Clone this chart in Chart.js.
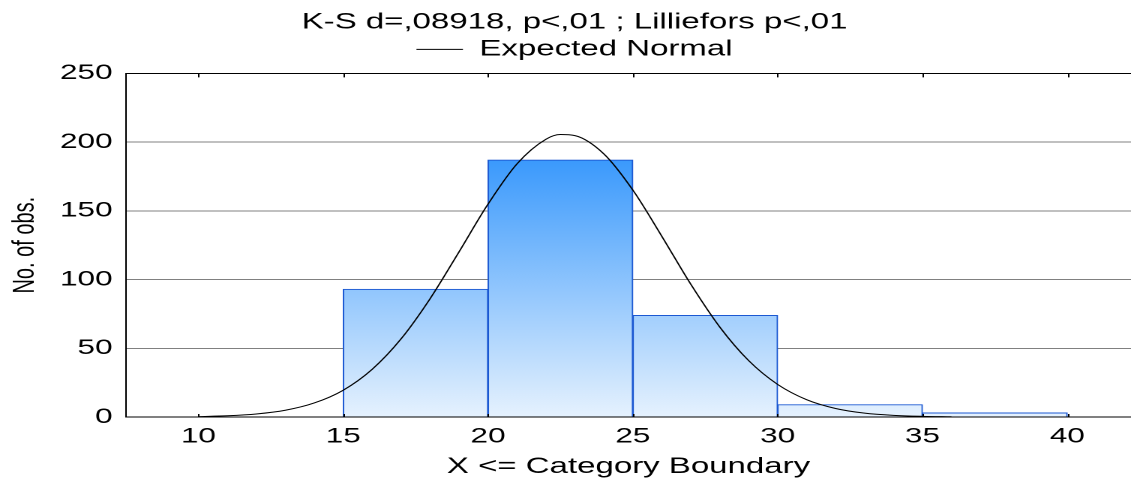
<!DOCTYPE html>
<html>
<head>
<meta charset="utf-8">
<script src="https://cdn.jsdelivr.net/npm/chart.js@4"></script>
<style>
  body { margin: 0; background: #fff; }
  #wrap { width: 1131px; height: 482px; overflow: hidden; }
  /* the reference is stretched sideways, so draw narrow and widen it */
  #c { display: block; transform: scaleX(1.5); transform-origin: 0 0; }
</style>
</head>
<body>
<div id="wrap"><canvas id="c" width="754" height="482"></canvas></div>
<script>
// histogram bins
var binStarts = [15, 20, 25, 30, 35];
var binEnds = [20, 25, 30, 35, 40];
var counts = [93, 187, 74, 9, 3];

// expected normal curve
var curveX = [10, 11, 12, 13, 14, 15, 16, 17, 18, 19, 20, 21, 22, 22.5, 23, 24, 25, 26, 27, 28, 29, 30, 31, 32, 33, 34, 35, 36];
var curveY = [0.3, 0.9, 2.2, 4.9, 10.2, 19.5, 34.7, 56.9, 86.1, 120.2, 154.9, 184.2, 202.1, 205.5, 204.7, 191.4, 165.1, 131.5, 96.6, 65.5, 41.0, 23.7, 12.6, 6.2, 2.8, 1.2, 0.5, 0.2];

var xTicks = [10, 15, 20, 25, 30, 35, 40];
var yTicks = [0, 50, 100, 150, 200, 250];

var titleText = 'K-S d=,08918, p<,01 ; Lilliefors p<,01';
var lineLabel = 'Expected Normal';
var xTitle = 'X <= Category Boundary';
var yTitle = 'No. of obs.';

var fam = '"Liberation Sans", Arial, sans-serif';

var barData = binStarts.map(function (s, i) {
    return { x: (s + binEnds[i]) / 2, y: counts[i] };
});
var lineData = curveX.map(function (x, i) {
    return { x: x, y: curveY[i] };
});

function barFill(ctx) {
    var chart = ctx.chart;
    if (!chart.chartArea) return '#9cc9f8';
    var y = chart.scales.y;
    var g = chart.ctx.createLinearGradient(0, y.getPixelForValue(0), 0, y.getPixelForValue(190));
    g.addColorStop(0, '#e6f2fe');
    g.addColorStop(1, '#3898fc');
    return g;
}

// small inward tick marks on top and bottom edges
var edgeTicks = {
    id: 'edgeTicks',
    afterDatasetsDraw: function (chart) {
        var c = chart.ctx, a = chart.chartArea, xs = chart.scales.x;
        c.save();
        c.strokeStyle = '#000';
        c.lineWidth = 1;
        c.beginPath();
        xTicks.forEach(function (v) {
            var px = Math.round(xs.getPixelForValue(v)) + 0.5;
            c.moveTo(px, a.top);
            c.lineTo(px, a.top + 4);
            c.moveTo(px, a.bottom);
            c.lineTo(px, a.bottom - 3);
        });
        c.stroke();
        c.restore();
    }
};

var ctx = document.getElementById('c').getContext('2d');
var chart = new Chart(ctx, {
    data: {
        datasets: [{
            type: 'line',
            label: lineLabel,
            data: lineData,
            borderColor: '#000',
            backgroundColor: '#000',
            borderWidth: 1,
            pointRadius: 0,
            cubicInterpolationMode: 'monotone',
            order: 0
        }, {
            type: 'bar',
            label: 'counts',
            data: barData,
            backgroundColor: barFill,
            borderColor: '#1b58d2',
            borderWidth: 1,
            barPercentage: 1,
            categoryPercentage: 1,
            order: 1
        }]
    },
    options: {
        responsive: false,
        devicePixelRatio: 2,
        animation: false,
        layout: { padding: { left: 0, right: -12, top: 0, bottom: 0 } },
        plugins: {
            title: {
                display: true,
                text: titleText,
                color: '#000',
                font: { family: fam, size: 22, weight: 'normal' },
                padding: { top: 9, bottom: 0 }
            },
            legend: {
                display: true,
                labels: {
                    color: '#000',
                    font: { family: fam, size: 22 },
                    boxWidth: 31,
                    boxHeight: 1,
                    padding: 3,
                    filter: function (item) { return item.datasetIndex === 0; },
                    generateLabels: function (chart) {
                        return Chart.defaults.plugins.legend.labels.generateLabels(chart).map(function (it) {
                            it.lineWidth = 0;
                            return it;
                        });
                    }
                }
            },
            tooltip: { enabled: false }
        },
        scales: {
            x: {
                type: 'linear',
                position: 'bottom',
                offset: false,
                min: 7.5,
                max: 42.2,
                afterBuildTicks: function (s) {
                    s.ticks = xTicks.map(function (v) { return { value: v }; });
                },
                afterFit: function (s) { s.height = 65; },
                grid: { display: false, drawTicks: false, offset: false },
                border: { display: true, color: '#000', width: 1 },
                ticks: {
                    color: '#000',
                    padding: 7,
                    font: { family: fam, size: 21 },
                    maxRotation: 0
                },
                title: {
                    display: true,
                    text: xTitle,
                    color: '#000',
                    font: { family: fam, size: 22 },
                    padding: { top: 0, bottom: 2 }
                }
            },
            x2: {
                type: 'linear',
                position: 'top',
                offset: false,
                min: 7.5,
                max: 42.2,
                afterFit: function (s) { s.height = 3; },
                grid: { display: false, drawTicks: false },
                border: { display: true, color: '#000', width: 1 },
                ticks: { display: false }
            },
            y: {
                min: 0,
                max: 250,
                afterBuildTicks: function (s) {
                    s.ticks = yTicks.map(function (v) { return { value: v }; });
                },
                afterFit: function (s) { s.width = 84; },
                grid: {
                    drawTicks: false,
                    color: function (c) {
                        return (c.tick && (c.tick.value === 0 || c.tick.value === 250)) ? '#000' : '#808080';
                    },
                    lineWidth: 1
                },
                border: { display: true, color: '#000', width: 1 },
                ticks: {
                    color: '#000',
                    padding: 9,
                    font: { family: fam, size: 21 }
                },
                title: {
                    display: true,
                    text: yTitle,
                    color: '#000',
                    font: { family: fam, size: 20 },
                    padding: { top: 5, bottom: 0 }
                }
            }
        }
    },
    plugins: [edgeTicks]
});
</script>
</body>
</html>
